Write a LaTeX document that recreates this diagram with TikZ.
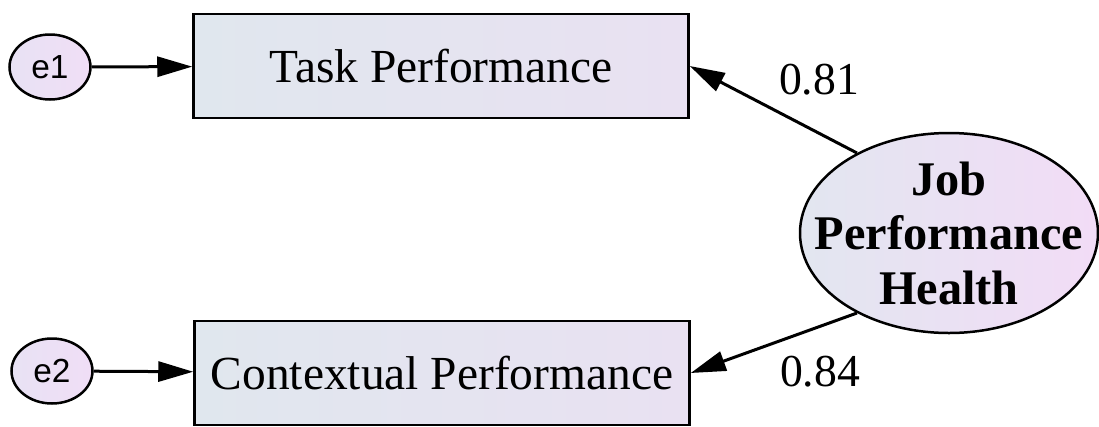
\documentclass[tikz,border=0pt]{standalone}
\usepackage{fontspec}
\setmainfont{Liberation Serif}
\newfontfamily\errfont{Liberation Sans}
\usepackage{tikz}
\usetikzlibrary{shapes.geometric}
\usetikzlibrary{arrows.meta}
\begin{document}
\begin{tikzpicture}[
        x=0.2mm, y=-0.2mm,
        observed/.style = {
        draw, rectangle, line width=0.5mm, inner sep=0pt,
        minimum width=99mm, minimum height=20.8mm,
        left color={rgb,255:red,224;green,231;blue,238},
        right color={rgb,255:red,233;green,225;blue,242},
        font=\fontsize{27}{32}\selectfont
        },
        errvar/.style = {
        draw, ellipse, line width=0.5mm, inner sep=0pt,
        minimum width=16.2mm, minimum height=13mm,
        left color={rgb,255:red,232;green,226;blue,244},
        right color={rgb,255:red,240;green,222;blue,246},
        font=\errfont\fontsize{19}{21}\selectfont
        },
        latent/.style = {
        draw, ellipse, line width=0.5mm,
        inner xsep=-8mm, inner ysep=-2mm,
        minimum width=59.6mm, minimum height=40mm,
        left color={rgb,255:red,226;green,230;blue,240},
        right color={rgb,255:red,242;green,220;blue,246},
        align=center, font=\bfseries\fontsize{27.5}{31}\selectfont
        },
        path/.style = {
        line width=0.6mm, -{Triangle[length=7mm, width=4mm]}
        },
        coef/.style = {font=\fontsize{26}{30}\selectfont}
        ]
        \useasboundingbox (0,0) rectangle (1099,426);

        \node[observed] (task) at (441,66) {Task Performance};
        \node[observed] (context) at (442,373) {Contextual Performance};
        \node[errvar] (e1) at (50,67) {e1};
        \node[errvar] (e2) at (52,371) {e2};
        \node[latent] (jph) at (949,233) {Job\\Performance\\Health};

        \node[coef] (l81) at (819,80) {0.81};
        \node[coef] (l84) at (820,372) {0.84};

        \draw[path] (e1) -- (task);
        \draw[path] (e2) -- (context);
        \draw[path] (jph.139) -- (task.east);
        \draw[path] (jph.221) -- (context.east);
    \end{tikzpicture}
\end{document}
